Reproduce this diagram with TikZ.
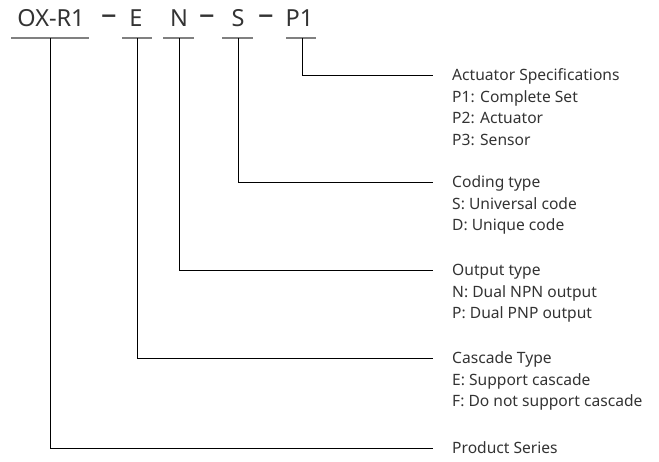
\documentclass[tikz,border=0pt]{standalone}
\usepackage{fontspec}
\setmainfont{Noto Sans}
\usetikzlibrary{positioning}
\definecolor{txtgray}{HTML}{333333}
\definecolor{ulgray}{HTML}{808080}
\begin{document}
\begin{tikzpicture}[x=1pt,y=-1pt,
	code/.style={anchor=base,inner sep=0pt,text=txtgray,font=\fontsize{23.5}{24}\selectfont},
	sep/.style={code,font=\fontsize{31}{31}\selectfont},
	lbl/.style={anchor=base west,inner sep=0pt,text=txtgray,font=\fontsize{15.6}{16}\selectfont},
	uline/.style={draw=ulgray,line width=1.6pt},
	lead/.style={draw=black,line width=0.9pt}]
	\useasboundingbox (0,0) rectangle (659,461);
	%\draw [help lines,step=50] (0,0) grid (659,461);
	% code string
	\node[code] (ser) at (51,26) {OX-R1};
	\node[sep] (d1) at (109,26) {\raisebox{1.5pt}{–}};
	\node[code] (cas) at (136,26) {E};
	\node[code] (out) at (179,26) {N};
	\node[sep] (d2) at (207,26) {\raisebox{1.5pt}{–}};
	\node[code] (cod) at (238,26) {S};
	\node[sep] (d3) at (266.5,26) {\raisebox{1.5pt}{–}};
	\node[code] (act) at (299.5,26) {P1};
	% underlines
	\draw[uline] (11,38) -- (89,38);
	\draw[uline] (122,38) -- (152,38);
	\draw[uline] (163,38) -- (194,38);
	\draw[uline] (222,38) -- (253,38);
	\draw[uline] (286,38) -- (316,38);
	% line ends
	\coordinate (actE) at (433,75);
	\coordinate (codE) at (433,182);
	\coordinate (outE) at (433,270);
	\coordinate (casE) at (433,358);
	\coordinate (serE) at (433,448);
	\draw[lead] ([xshift=2.5pt]act.south |- 0,38) |- (actE);
	\draw[lead] (cod.south |- 0,38) |- (codE);
	\draw[lead] (out.south |- 0,38) |- (outE);
	\draw[lead] ([xshift=1pt]cas.south |- 0,38) |- (casE);
	\draw[lead] ([xshift=-1pt]ser.south |- 0,38) |- (serE);
	% descriptions
	\node[lbl] (actT) at (452,80.5) {Actuator Specifications};
	\node[lbl] (act1) at (452,102.2) {P1: Complete Set};
	\node[lbl] (act2) at (452,123.9) {P2: Actuator};
	\node[lbl] (act3) at (452,145.6) {P3: Sensor};
	\node[lbl] (codT) at (452,187.5) {Coding type};
	\node[lbl] (cod1) at (452,209.2) {S: Universal code};
	\node[lbl] (cod2) at (452,230.9) {D: Unique code};
	\node[lbl] (outT) at (452,275.5) {Output type};
	\node[lbl] (out1) at (452,297.2) {N: Dual NPN output};
	\node[lbl] (out2) at (452,318.9) {P: Dual PNP output};
	\node[lbl] (casT) at (452,363.5) {Cascade Type};
	\node[lbl] (cas1) at (452,385.2) {E: Support cascade};
	\node[lbl] (cas2) at (452,406.9) {F: Do not support cascade};
	\node[lbl] (serT) at (452,453.5) {Product Series};
\end{tikzpicture}
\end{document}
